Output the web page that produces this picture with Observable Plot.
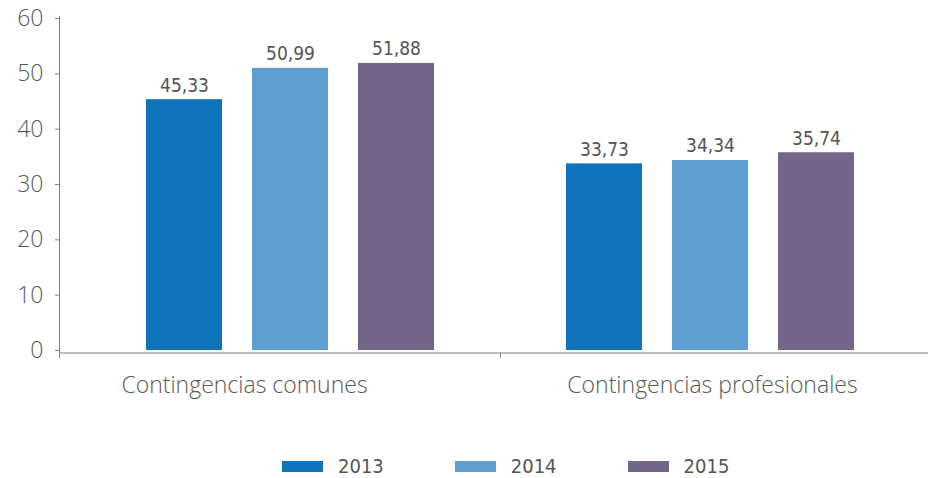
<!DOCTYPE html>
<html>
<head>
<meta charset="utf-8">
<script src="https://cdn.jsdelivr.net/npm/d3@7"></script>
<script src="https://cdn.jsdelivr.net/npm/@observablehq/plot@0.6"></script>
<style>
  html, body { margin: 0; padding: 0; background: #fff; }
  #chart { width: 928px; }
  .lg-swatches { margin-left: 282px !important; min-height: 0 !important; margin-top: 34px !important;
    font-family: "DejaVu Sans Condensed", sans-serif !important; font-size: 20px !important; color: #555 !important; }
  .lg-swatch { margin-right: 71px !important; }
  .lg-swatch > svg { margin-right: 15px !important; }
</style>
</head>
<body>
<div id="chart"></div>
<script>
const groups = ["Contingencias comunes", "Contingencias profesionales"];
const years = ["2013", "2014", "2015"];
const values2013 = [45.33, 33.73];
const values2014 = [50.99, 34.34];
const values2015 = [51.88, 35.74];
const colors = ["#0f74bc", "#5f9ed0", "#736789"];
const yTicks = [0, 10, 20, 30, 40, 50, 60];

const series = [values2013, values2014, values2015];
const data = [];
groups.forEach((g, i) => years.forEach((y, j) => data.push({group: g, year: y, value: series[j][i]})));

const W = 928, H = 420, mL = 80, mR = 8, mT = 18, mB = 70;
const halfStep = (W - mL - mR) / (2 * groups.length);
const fmt = v => v.toFixed(2).replace(".", ",");
const axisColor = "#808080";

const plot = Plot.plot({
  width: W,
  height: H,
  marginLeft: mL,
  marginRight: mR,
  marginTop: mT,
  marginBottom: mB,
  style: {fontFamily: "'Open Sans', sans-serif", fontSize: "23px", color: "#595959", fontWeight: 300, overflow: "visible"},
  fx: {domain: groups, padding: 0},
  x: {domain: years, paddingInner: 0.28, paddingOuter: 0.61, axis: null},
  y: {domain: [0, 60]},
  color: {domain: years, range: colors},
  marks: [
    Plot.barY(data, {fx: "group", x: "year", y: "value", fill: "year"}),
    Plot.text(data, {fx: "group", x: "year", y: "value", text: d => fmt(d.value), lineAnchor: "bottom", dy: -8,
      fontFamily: "'DejaVu Sans Condensed', sans-serif", fontSize: 19, fill: "#555", fontWeight: 400}),
    Plot.frame({anchor: "left", facet: "super", dx: -21, insetTop: -2, insetBottom: -7, stroke: axisColor}),
    Plot.frame({anchor: "bottom", facet: "super", dy: 2.5, insetLeft: -21, insetRight: -8, stroke: axisColor}),
    Plot.axisY({ticks: yTicks, tickSize: 4, tickPadding: 12, dx: -21, stroke: axisColor, label: null}),
    Plot.axisFx({ticks: [groups[1]], anchor: "bottom", tickSize: 5, dx: -halfStep, dy: 2.5, text: null, stroke: axisColor, label: null}),
    Plot.axisFx({ticks: [groups[0]], anchor: "bottom", tickSize: 0, tickPadding: 26, dx: -46, label: null}),
    Plot.axisFx({ticks: [groups[1]], anchor: "bottom", tickSize: 0, tickPadding: 26, dx: 2, label: null})
  ]
});

const chart = document.getElementById("chart");
chart.appendChild(plot);
const legend = plot.legend("color", {className: "lg", swatchWidth: 41, swatchHeight: 11});
chart.appendChild(legend);
</script>
</body>
</html>
